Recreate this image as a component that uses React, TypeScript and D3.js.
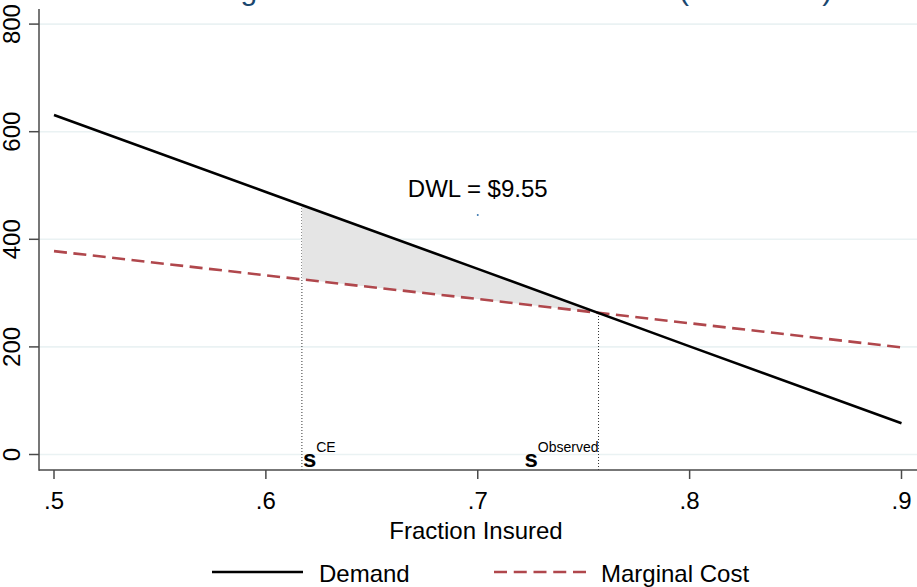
import React from "react";
import * as d3 from "d3";

// ---- data ----
const fraction = [0.5, 0.6, 0.7, 0.8, 0.9];
const demand = [631, 488, 345, 201, 58];
const marginalCost = [378, 333, 289, 244, 199];
const sCE = 0.617;
const sObserved = 0.757;
const xTicks = [0.5, 0.6, 0.7, 0.8, 0.9];
const xTickLabels = [".5", ".6", ".7", ".8", ".9"];
const yTicks = [0, 200, 400, 600, 800];
const dwlLabel = "DWL = $9.55";
const dwlPoint = [0.7, 445];
const dwlTextPos = [0.7, 479];
const titleText = "Deadweight Loss from Adverse Selection (Simulated)";
const xTitle = "Fraction Insured";
const legendLabels = ["Demand", "Marginal Cost"];

const W = 917;
const H = 587;
const FONT = "'Liberation Sans', Arial, Helvetica, sans-serif";
const MC_COLOR = "#b0474c";
const GRID = "#eaf2f3";
const AXIS = "#4a4a4a";

export default function App() {
  const x = d3.scaleLinear().domain([0.5, 0.9]).range([54, 901.5]);
  const y = d3.scaleLinear().domain([0, 800]).range([454.5, 24.1]);
  const plotTop = 9;
  const plotBottom = 470;
  const axisX = 39;

  const demandAt = d3.scaleLinear().domain(fraction).range(demand);
  const mcAt = d3.scaleLinear().domain(fraction).range(marginalCost);

  const line = d3
    .line<[number, number]>()
    .x((d) => x(d[0]))
    .y((d) => y(d[1]));

  const demandPts: [number, number][] = fraction.map((f, i) => [f, demand[i]]);
  const mcPts: [number, number][] = fraction.map((f, i) => [f, marginalCost[i]]);

  const areaXs = [sCE, ...fraction.filter((f) => f > sCE && f < sObserved), sObserved];
  const area = d3
    .area<number>()
    .x((f) => x(f))
    .y0((f) => y(mcAt(f)))
    .y1((f) => y(demandAt(f)));

  return (
    <svg
      width={W}
      height={H}
      style={{ position: "absolute", left: 0, top: 0, background: "#fff" }}
      fontFamily={FONT}
    >
      <rect x={0} y={0} width={W} height={H} fill="#fff" />
      {/* title (mostly cut off at the top edge) */}
      <text x={478} y={0} textAnchor="middle" fontSize={30} fill="#1a476f">
        {titleText}
      </text>

      {/* gridlines */}
      {yTicks.map((t) => (
        <line key={t} x1={axisX} x2={W} y1={y(t)} y2={y(t)} stroke={GRID} strokeWidth={1.6} />
      ))}

      {/* dotted verticals */}
      <line
        x1={x(sCE)}
        x2={x(sCE)}
        y1={plotBottom}
        y2={y(demandAt(sCE))}
        stroke="#333"
        strokeWidth={1}
        strokeDasharray="1 2"
      />
      <line
        x1={x(sObserved)}
        x2={x(sObserved)}
        y1={plotBottom}
        y2={y(demandAt(sObserved))}
        stroke="#333"
        strokeWidth={1}
        strokeDasharray="1 2"
      />

      {/* shaded DWL area */}
      <path d={area(areaXs) || ""} fill="#e5e5e5" stroke="none" />

      {/* lines */}
      <path d={line(mcPts) || ""} fill="none" stroke={MC_COLOR} strokeWidth={2.6} strokeDasharray="13 6.5" />
      <path d={line(demandPts) || ""} fill="none" stroke="#000" strokeWidth={2.6} />

      {/* DWL marker and label */}
      <circle cx={x(dwlPoint[0])} cy={y(dwlPoint[1])} r={1} fill="#3a78b0" />
      <text x={x(dwlTextPos[0])} y={y(dwlTextPos[1])} textAnchor="middle" fontSize={24} fill="#000">
        {dwlLabel}
      </text>

      {/* s labels */}
      <text x={x(sCE) + 1} y={467} fontSize={24} fill="#000">
        <tspan fontWeight={700}>s</tspan>
        <tspan fontSize={14} dy={-15}>CE</tspan>
      </text>
      <text x={x(sObserved)} y={467} fontSize={24} fill="#000" textAnchor="end">
        <tspan fontWeight={700}>s</tspan>
        <tspan fontSize={14} dy={-15}>Observed</tspan>
      </text>

      {/* axes */}
      <line x1={axisX} x2={axisX} y1={plotTop} y2={plotBottom + 0.75} stroke={AXIS} strokeWidth={1.5} />
      <line x1={axisX} x2={W} y1={plotBottom} y2={plotBottom} stroke={AXIS} strokeWidth={1.5} />

      {yTicks.map((t) => (
        <g key={t}>
          <line x1={axisX - 10} x2={axisX} y1={y(t)} y2={y(t)} stroke={AXIS} strokeWidth={1.5} />
          <text
            transform={`translate(20, ${y(t)}) rotate(-90)`}
            textAnchor="middle"
            fontSize={24}
            fill="#000"
          >
            {t}
          </text>
        </g>
      ))}

      {xTicks.map((t, i) => (
        <g key={t}>
          <line x1={x(t)} x2={x(t)} y1={plotBottom} y2={plotBottom + 9} stroke={AXIS} strokeWidth={1.5} />
          <text x={x(t)} y={509} textAnchor="middle" fontSize={24} fill="#000">
            {xTickLabels[i]}
          </text>
        </g>
      ))}

      <text x={476} y={539} textAnchor="middle" fontSize={24} fill="#000">
        {xTitle}
      </text>

      {/* legend */}
      <line x1={212} x2={303} y1={572} y2={572} stroke="#000" strokeWidth={2.6} />
      <text x={319} y={582} fontSize={24} fill="#000">
        {legendLabels[0]}
      </text>
      <line x1={494} x2={586} y1={572} y2={572} stroke={MC_COLOR} strokeWidth={2.4} strokeDasharray="13 6.75" />
      <text x={601} y={582} fontSize={24} fill="#000">
        {legendLabels[1]}
      </text>
    </svg>
  );
}
